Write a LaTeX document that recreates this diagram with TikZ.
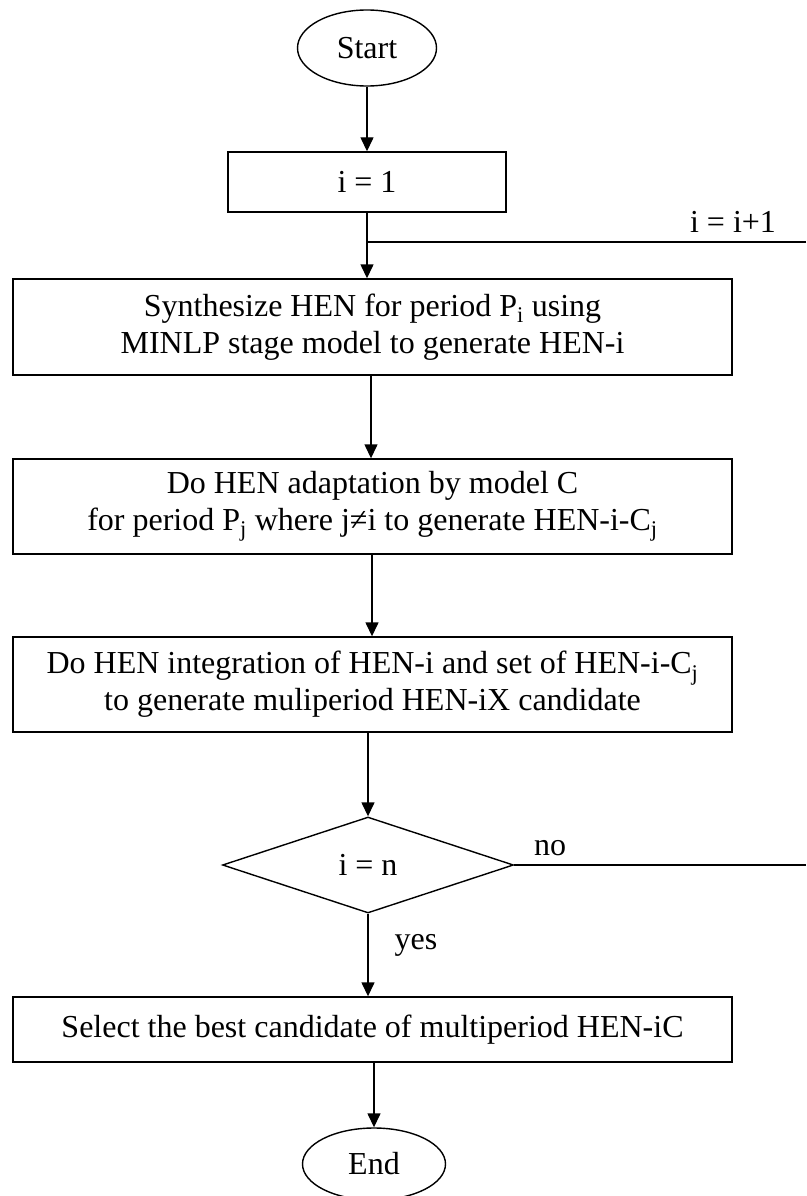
\documentclass[tikz,border=0pt]{standalone}
\usepackage{fontspec}
\setmainfont{Liberation Serif}
\usetikzlibrary{shapes.geometric,arrows.meta}
\begin{document}
\begin{tikzpicture}[x=1pt,y=-1pt,
  every node/.style={font=\fontsize{32}{37}\selectfont},
  line/.style={line width=1.4pt},
  arr/.style={line width=1.4pt,-{Triangle[length=14pt,width=13pt]}},
  term/.style={ellipse,draw,line width=1.4pt,inner sep=0pt},
  procbox/.style={rectangle,draw,line width=1.4pt,inner sep=0pt,align=center},
  decision/.style={diamond,draw,line width=1.4pt,inner sep=0pt},
  lbl/.style={inner sep=0pt}]
\useasboundingbox (0,0) rectangle (806,1196);
\node[term,minimum width=139pt,minimum height=76pt] (start) at (367,48) {Start};
\node[procbox,minimum width=278pt,minimum height=60pt] (i1) at (367,182) {i = 1};
\node[procbox,minimum width=719pt,minimum height=96pt] (synth) at (372.5,327)
  {Synthesize HEN for period P\textsubscript{i} using\\MINLP stage model to generate HEN-i};
\node[procbox,minimum width=719pt,minimum height=95pt] (adapt) at (372.5,506.5)
  {Do HEN adaptation by model C\\for period P\textsubscript{j} where j≠i to generate HEN-i-C\textsubscript{j}};
\node[procbox,minimum width=719pt,minimum height=95pt] (integ) at (372.5,684.5)
  {Do HEN integration of HEN-i and set of HEN-i-C\textsubscript{j}\\to generate muliperiod HEN-iX candidate};
\node[decision,minimum width=291pt,minimum height=96pt] (dec) at (368,865) {i = n};
\node[procbox,minimum width=719pt,minimum height=65pt] (sel) at (372.5,1029.5)
  {Select the best candidate of multiperiod HEN-iC};
\node[term,minimum width=143pt,minimum height=72pt] (end) at (374,1164) {End};

\coordinate (loopin) at (806,242);
\coordinate (junc) at (367,242);
\coordinate (noout) at (806,865);

\draw[arr] (start) -- (i1);
\draw[arr] (i1) -- (i1 |- synth.north);
\draw[line] (loopin) -- (junc);
\draw[arr] (synth.south -| 371,0) -- (adapt.north -| 371,0);
\draw[arr] (adapt.south -| 372,0) -- (integ.north -| 372,0);
\draw[arr] (integ.south -| dec) -- (dec);
\draw[line] (dec.east) -- (noout);
\draw[arr] (dec.south) -- (dec.south |- sel.north);
\draw[arr] (sel.south -| end) -- (end);

\node[lbl] (incr) at (733,222) {i = i+1};
\node[lbl] (no) at (550,848) {no};
\node[lbl] (yes) at (416,945) {yes};
\end{tikzpicture}
\end{document}
